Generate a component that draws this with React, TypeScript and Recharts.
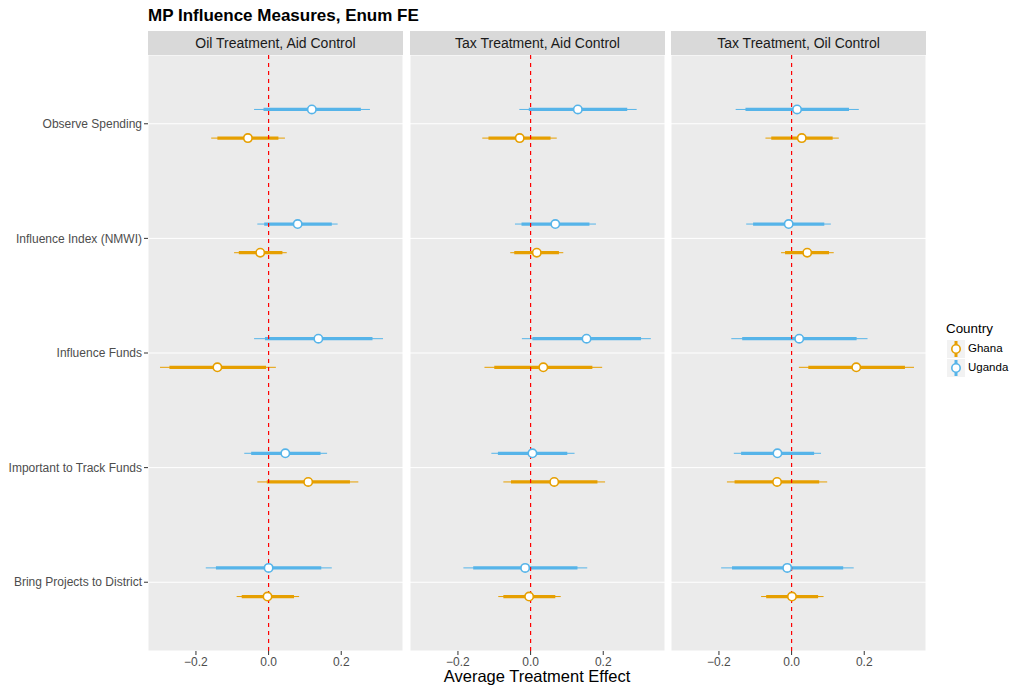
import React from 'react';
import { ScatterChart, Scatter, XAxis, YAxis, CartesianGrid, ReferenceLine, ErrorBar } from 'recharts';

const outcomes = [
  'Observe Spending',
  'Influence Index (NMWI)',
  'Influence Funds',
  'Important to Track Funds',
  'Bring Projects to District',
];

const facets = ['Oil Treatment, Aid Control', 'Tax Treatment, Aid Control', 'Tax Treatment, Oil Control'];

// each row: [low 95, low 90, estimate, high 90, high 95]
const ghanaOilAid = [
  [-0.158, -0.141, -0.057, 0.027, 0.045],
  [-0.095, -0.082, -0.023, 0.038, 0.05],
  [-0.299, -0.273, -0.141, -0.007, 0.02],
  [-0.031, -0.005, 0.109, 0.224, 0.247],
  [-0.088, -0.074, -0.003, 0.07, 0.084],
];
const ugandaOilAid = [
  [-0.04, -0.014, 0.119, 0.254, 0.279],
  [-0.031, -0.012, 0.08, 0.174, 0.19],
  [-0.04, -0.01, 0.137, 0.286, 0.315],
  [-0.067, -0.048, 0.046, 0.143, 0.161],
  [-0.173, -0.145, 0.0, 0.145, 0.174],
];
const ghanaTaxAid = [
  [-0.133, -0.116, -0.03, 0.055, 0.072],
  [-0.056, -0.045, 0.017, 0.078, 0.09],
  [-0.127, -0.1, 0.035, 0.17, 0.197],
  [-0.075, -0.054, 0.065, 0.184, 0.205],
  [-0.089, -0.075, -0.004, 0.068, 0.083],
];
const ugandaTaxAid = [
  [-0.031, -0.005, 0.13, 0.266, 0.292],
  [-0.043, -0.025, 0.068, 0.162, 0.18],
  [-0.024, 0.005, 0.154, 0.304, 0.331],
  [-0.108, -0.09, 0.005, 0.101, 0.121],
  [-0.185, -0.158, -0.015, 0.129, 0.156],
];
const ghanaTaxOil = [
  [-0.072, -0.056, 0.028, 0.113, 0.13],
  [-0.029, -0.018, 0.043, 0.103, 0.116],
  [0.02, 0.046, 0.178, 0.312, 0.337],
  [-0.178, -0.157, -0.04, 0.076, 0.098],
  [-0.084, -0.07, 0.001, 0.073, 0.088],
];
const ugandaTaxOil = [
  [-0.154, -0.127, 0.015, 0.158, 0.185],
  [-0.125, -0.106, -0.008, 0.09, 0.108],
  [-0.166, -0.136, 0.021, 0.179, 0.209],
  [-0.159, -0.139, -0.039, 0.062, 0.081],
  [-0.194, -0.164, -0.012, 0.142, 0.171],
];

const xTicks = [-0.2, 0, 0.2];
const xGrid = [-0.3, -0.2, -0.1, 0, 0.1, 0.2, 0.3];
const xDomain = [-0.332, 0.37];

const GHANA = '#E69F00';
const UGANDA = '#56B4E9';
const FONT = '"Liberation Sans", Arial, sans-serif';

const toRows = (rows: number[][], shift: number) =>
  rows.map((r, i) => ({
    y: i + shift,
    x: r[2],
    thin: [r[2] - r[0], r[4] - r[2]],
    thick: [r[2] - r[1], r[3] - r[2]],
  }));

const panelData = [
  { ghana: toRows(ghanaOilAid, 0.125), uganda: toRows(ugandaOilAid, -0.125) },
  { ghana: toRows(ghanaTaxAid, 0.125), uganda: toRows(ugandaTaxAid, -0.125) },
  { ghana: toRows(ghanaTaxOil, 0.125), uganda: toRows(ugandaTaxOil, -0.125) },
];

const fmt = (v: number) => (v < 0 ? '\u2212' + Math.abs(v).toFixed(1) : v.toFixed(1));

const dot = (color: string) => (p: any) => (
  <circle cx={p.cx} cy={p.cy} r={4.2} fill="#FFFFFF" stroke={color} strokeWidth={1.6} />
);
const nothing = () => <g />;

// one-line label plus its own tick mark
const OutcomeTick = (p: any) => (
  <g>
    <line x1={p.x + 2} x2={p.x + 6} y1={p.y} y2={p.y} stroke="#333333" strokeWidth={1} />
    <text x={p.x} y={p.y} dy="0.35em" textAnchor="end" fill="#4D4D4D" fontSize={12} fontFamily={FONT}>
      {outcomes[p.payload.value]}
    </text>
  </g>
);

const Panel = ({ idx }: { idx: number }) => {
  const first = idx === 0;
  const d = panelData[idx];
  const left = [0, 410, 671][idx];
  const width = first ? 403 : 255;
  return (
    <div style={{ position: 'absolute', left, top: 0 }}>
      <ScatterChart width={width} height={689} margin={{ top: 55, right: 0, bottom: 0, left: 0 }}>
        <CartesianGrid xAxisId="grid" fill="#EBEBEB" stroke="#FFFFFF" strokeWidth={1} />
        <XAxis
          xAxisId="grid"
          orientation="top"
          type="number"
          domain={xDomain}
          allowDataOverflow
          ticks={xGrid}
          height={0}
          tick={false}
          tickLine={false}
          axisLine={false}
        />
        <XAxis
          type="number"
          dataKey="x"
          domain={xDomain}
          allowDataOverflow
          ticks={xTicks}
          tickFormatter={fmt}
          axisLine={false}
          tickLine={{ stroke: '#333333' }}
          tickSize={4}
          tickMargin={2}
          height={38}
          tick={{ fill: '#4D4D4D', fontSize: 12, fontFamily: FONT }}
        />
        <YAxis
          type="number"
          dataKey="y"
          domain={[-0.6, 4.6]}
          reversed
          allowDataOverflow
          ticks={[0, 1, 2, 3, 4]}
          hide={!first}
          width={148}
          axisLine={false}
          tickLine={false}
          tickSize={0}
          tickMargin={6}
          tick={<OutcomeTick />}
        />
        <Scatter data={d.ghana} shape={nothing} isAnimationActive={false}>
          <ErrorBar dataKey="thin" direction="x" width={0} stroke={GHANA} strokeWidth={1} isAnimationActive={false} />
          <ErrorBar dataKey="thick" direction="x" width={0} stroke={GHANA} strokeWidth={3.2} isAnimationActive={false} />
        </Scatter>
        <Scatter data={d.uganda} shape={nothing} isAnimationActive={false}>
          <ErrorBar dataKey="thin" direction="x" width={0} stroke={UGANDA} strokeWidth={1} isAnimationActive={false} />
          <ErrorBar dataKey="thick" direction="x" width={0} stroke={UGANDA} strokeWidth={3.2} isAnimationActive={false} />
        </Scatter>
        <ReferenceLine x={0} stroke="#FF0000" strokeWidth={1.2} strokeDasharray="4 4" />
        <Scatter data={d.ghana} shape={dot(GHANA)} isAnimationActive={false} />
        <Scatter data={d.uganda} shape={dot(UGANDA)} isAnimationActive={false} />
      </ScatterChart>
      <div
        style={{
          position: 'absolute',
          left: first ? 148 : 0,
          top: 31,
          width: 255,
          height: 24,
          background: '#D9D9D9',
          color: '#1A1A1A',
          fontFamily: FONT,
          fontSize: 14,
          lineHeight: '24px',
          textAlign: 'center',
        }}
      >
        {facets[idx]}
      </div>
    </div>
  );
};

const LegendKey = ({ color, top, label }: { color: string; top: number; label: string }) => (
  <>
    <svg style={{ position: 'absolute', left: 947, top }} width={18} height={18}>
      <rect x={0} y={0} width={18} height={18} fill="#F2F2F2" />
      <line x1={9} x2={9} y1={1} y2={17} stroke={color} strokeWidth={3} />
      <circle cx={9} cy={9} r={4.2} fill="#FFFFFF" stroke={color} strokeWidth={1.6} />
    </svg>
    <div style={{ position: 'absolute', left: 968, top: top + 2, fontSize: 11.5, fontFamily: FONT, color: '#000' }}>
      {label}
    </div>
  </>
);

export default function App() {
  return (
    <div style={{ position: 'absolute', left: 0, top: 0, width: 1011, height: 689, background: '#FFFFFF', fontFamily: FONT }}>
      <div style={{ position: 'absolute', left: 148, top: 6, fontSize: 17, fontWeight: 'bold', color: '#000' }}>
        MP Influence Measures, Enum FE
      </div>
      <Panel idx={0} />
      <Panel idx={1} />
      <Panel idx={2} />
      <div style={{ position: 'absolute', left: 0, width: 1074, top: 667, textAlign: 'center', fontSize: 16.5, color: '#000' }}>
        Average Treatment Effect
      </div>
      <div style={{ position: 'absolute', left: 946, top: 321, fontSize: 13.4, color: '#000' }}>Country</div>
      <LegendKey color={GHANA} top={340} label="Ghana" />
      <LegendKey color={UGANDA} top={359} label="Uganda" />
    </div>
  );
}
